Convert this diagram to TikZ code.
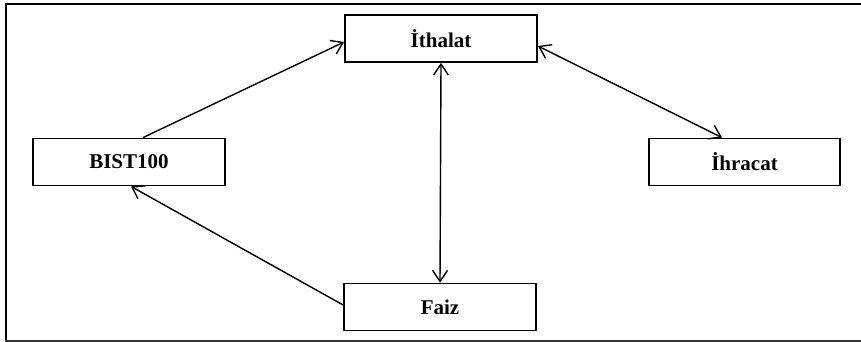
\documentclass[tikz,border=0pt]{standalone}
\usepackage{fontspec}
\setmainfont{Liberation Serif}
\usetikzlibrary{arrows.meta}
\begin{document}
\begin{tikzpicture}[x=1pt,y=-1pt,
  box/.style={draw,line width=1.8pt,minimum width=192pt,minimum height=47pt,inner sep=0pt,
    font=\fontsize{21}{24}\selectfont\bfseries},
  conn/.style={line width=1.4pt,-{Straight Barb[length=11pt,width=15pt,line width=1.4pt]}},
  both/.style={line width=1.4pt,{Straight Barb[length=11pt,width=15pt,line width=1.4pt]}-{Straight Barb[length=11pt,width=15pt,line width=1.4pt]}}]
\useasboundingbox (0,0) rectangle (861,342);
\draw[line width=2.8pt] (862,4) -- (6,4) -- (6,341);
\draw[line width=2pt,black!80] (5,341) -- (862,341);
\node[box] (ith) at (441,38.5) {İthalat};
\node[box] (bist) at (129,162) {BIST100};
\node[box] (faiz) at (440,307) {Faiz};
\node[box,minimum width=191pt] (ihr) at (744.5,162) {İhracat};
\draw[conn] ([xshift=14pt]bist.north) -- ([yshift=-3.5pt]ith.west);
\draw[both] ([yshift=-7.5pt]ith.east) -- ([xshift=-22.5pt]ihr.north);
\draw[both] (ith.south) -- (faiz.north);
\draw[conn] ([yshift=2pt]faiz.west) -- ([xshift=2pt]bist.south);
\end{tikzpicture}
\end{document}
